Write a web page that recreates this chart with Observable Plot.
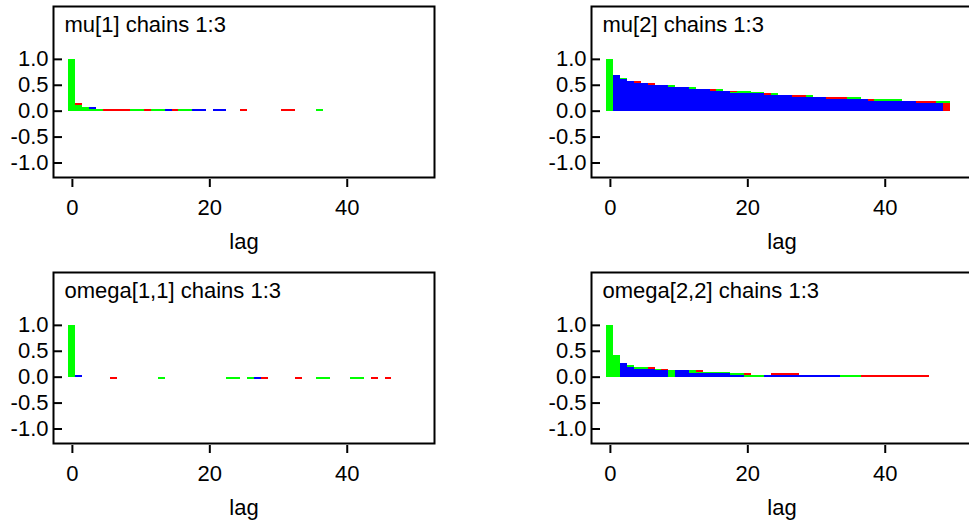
<!DOCTYPE html>
<html>
<head>
<meta charset="utf-8">
<script src="https://cdn.jsdelivr.net/npm/d3@7"></script>
<script src="https://cdn.jsdelivr.net/npm/@observablehq/plot@0.6"></script>
<style>
  html, body { margin: 0; padding: 0; background: #fff; overflow: hidden; }
  #chart { position: relative; width: 969px; height: 520px; overflow: hidden; }
  .panel { position: absolute; width: 484px; height: 260px; }
  .panel svg { max-width: none !important; }
</style>
</head>
<body>
<div id="chart"></div>
<script>
// Autocorrelation by lag (0..49) for three MCMC chains per parameter.
const titles = ["mu[1] chains 1:3", "mu[2] chains 1:3", "omega[1,1] chains 1:3", "omega[2,2] chains 1:3"];
const xLabel = "lag";
const xTicks = [0, 20, 40];
const yTicks = [1.0, 0.5, 0.0, -0.5, -1.0];
const chainNames = ["chain 1", "chain 2", "chain 3"];
const chainColors = ["#ff0000", "#00ff00", "#0000ff"]; // red, green, blue

const mu1Red = [
  1, 0.15, 0.08, 0.04, 0, 0.04, 0.04, 0.04, 0.04, 0,
  0, 0.04, 0, 0, 0, 0.04, 0, 0, 0, 0,
  0, 0, 0, 0, 0, 0.04, 0, 0, 0, 0,
  0, 0.04, 0.04, 0, 0, 0, 0, 0, 0, 0,
  0, 0, 0, 0, 0, 0, 0, 0, 0, 0];
const mu1Green = [
  1, 0.115, 0.08, 0.04, 0.04, 0, 0, 0, 0, 0.04,
  0.04, 0, 0.04, 0.04, 0, 0, 0.04, 0.04, 0, 0,
  0, 0, 0, 0, 0, 0, 0, 0, 0, 0,
  0, 0, 0, 0, 0, 0, 0.04, 0, 0, 0,
  0, 0, 0, 0, 0, 0, 0, 0, 0, 0];
const mu1Blue = [
  1, 0.115, 0.08, 0.08, 0, 0, 0, 0, 0, 0,
  0, 0, 0, 0, 0.04, 0, 0, 0, 0.04, 0.04,
  0, 0.04, 0.04, 0, 0, 0, 0, 0, 0, 0,
  0, 0, 0, 0, 0, 0, 0, 0, 0, 0,
  0, 0, 0, 0, 0, 0, 0, 0, 0, 0];

const mu2Red = [
  1, 0.692, 0.622, 0.582, 0.58, 0.542, 0.54, 0.502, 0.502, 0.50,
  0.462, 0.462, 0.46, 0.422, 0.422, 0.42, 0.42, 0.382, 0.38, 0.38,
  0.38, 0.352, 0.352, 0.35, 0.35, 0.312, 0.312, 0.31, 0.31, 0.31,
  0.272, 0.272, 0.27, 0.27, 0.27, 0.27, 0.27, 0.232, 0.23, 0.23,
  0.23, 0.23, 0.23, 0.192, 0.192, 0.19, 0.19, 0.19, 0.19, 0.15];
const mu2Green = [
  1, 0.692, 0.622, 0.582, 0.542, 0.542, 0.502, 0.502, 0.502, 0.50,
  0.462, 0.462, 0.46, 0.422, 0.422, 0.382, 0.42, 0.382, 0.352, 0.38,
  0.38, 0.352, 0.352, 0.312, 0.35, 0.312, 0.312, 0.272, 0.272, 0.31,
  0.272, 0.272, 0.232, 0.232, 0.232, 0.27, 0.27, 0.232, 0.192, 0.23,
  0.23, 0.23, 0.23, 0.192, 0.192, 0.152, 0.152, 0.152, 0.19, 0.19];
const mu2Blue = [
  1, 0.69, 0.62, 0.58, 0.54, 0.54, 0.50, 0.50, 0.50, 0.46,
  0.46, 0.46, 0.42, 0.42, 0.42, 0.38, 0.38, 0.38, 0.35, 0.35,
  0.35, 0.35, 0.35, 0.31, 0.31, 0.31, 0.31, 0.27, 0.27, 0.27,
  0.27, 0.27, 0.23, 0.23, 0.23, 0.23, 0.23, 0.23, 0.19, 0.19,
  0.19, 0.19, 0.19, 0.19, 0.19, 0.15, 0.15, 0.15, 0.15, 0.15];

const om11Red = [
  1, 0, 0, 0, 0, 0, -0.05, 0, 0, 0,
  0, 0, 0, 0, 0, 0, 0, 0, 0, 0,
  0, 0, 0, 0, 0, 0, 0, 0, -0.05, 0,
  0, 0, 0, -0.05, 0, 0, 0, 0, 0, 0,
  0, 0, 0, 0, -0.05, 0, -0.05, 0, 0, 0];
const om11Green = [
  1, 0, 0, 0, 0, 0, 0, 0, 0, 0,
  0, 0, 0, -0.05, 0, 0, 0, 0, 0, 0,
  0, 0, 0, -0.05, -0.05, 0, -0.05, 0, 0, 0,
  0, 0, 0, 0, 0, 0, -0.05, -0.05, 0, 0,
  0, -0.05, -0.05, 0, 0, 0, 0, 0, 0, 0];
const om11Blue = [
  1, 0.04, 0, 0, 0, 0, 0, 0, 0, 0,
  0, 0, 0, 0, 0, 0, 0, 0, 0, 0,
  0, 0, 0, 0, 0, 0, 0, -0.05, 0, 0,
  0, 0, 0, 0, 0, 0, 0, 0, 0, 0,
  0, 0, 0, 0, 0, 0, 0, 0, 0, 0];

const om22Red = [
  1, 0.42, 0.272, 0.23, 0.19, 0.19, 0.19, 0.15, 0.15, 0.12,
  0.122, 0.122, 0.12, 0.12, 0.082, 0.082, 0.082, 0.082, 0.08, 0.08,
  0.08, 0.04, 0.04, 0, 0.08, 0.08, 0.08, 0.08, 0, 0,
  0, 0, 0, 0, 0, 0, 0, 0.04, 0.04, 0.04,
  0.04, 0.04, 0.04, 0.04, 0.04, 0.04, 0.04, 0, 0, 0];
const om22Green = [
  1, 0.42, 0.272, 0.23, 0.19, 0.19, 0.152, 0.15, 0.122, 0.12,
  0.122, 0.122, 0.12, 0.082, 0.082, 0.082, 0.082, 0.082, 0.08, 0.08,
  0.04, 0.04, 0.04, 0, 0, 0, 0, 0, 0, 0,
  0, 0, 0, 0, 0.04, 0.04, 0.04, 0, 0, 0,
  0, 0, 0, 0, 0, 0, 0, 0, 0, 0];
const om22Blue = [
  1, 0.42, 0.27, 0.19, 0.15, 0.15, 0.15, 0.12, 0.12, 0.12,
  0.12, 0.12, 0.08, 0.08, 0.08, 0.08, 0.08, 0.08, 0.04, 0.04,
  0.04, 0.04, 0.04, 0.04, 0.04, 0.04, 0.04, 0.04, 0.04, 0.04,
  0.04, 0.04, 0.04, 0.04, 0, 0, 0, 0, 0, 0,
  0, 0, 0, 0, 0, 0, 0, 0, 0, 0];

const FONT = "'Liberation Sans', Arial, Helvetica, sans-serif";
const PANEL_W = 484, MARGIN_L = 53, MARGIN_R = 50;
const FRAME_W = PANEL_W - MARGIN_L - MARGIN_R;
const Y_TICK_LEN = 9;

// One bar per chain and lag; at each lag the largest |value| is painted first
// so that every chain stays visible. Ties: chain 3, then 1, then 2 on top.
function barRows(red, green, blue) {
  const chains = [[chainNames[2], blue], [chainNames[0], red], [chainNames[1], green]];
  const rows = [];
  for (let lag = 0; lag < red.length; lag++) {
    const at = chains.map(([chain, v], rank) => ({lag, chain, value: v[lag], rank}));
    at.sort((a, b) => Math.abs(b.value) - Math.abs(a.value) || a.rank - b.rank);
    rows.push(...at);
  }
  return rows;
}

function acfPanel(title, red, green, blue) {
  return Plot.plot({
    width: PANEL_W,
    height: 260,
    marginLeft: MARGIN_L,
    marginRight: MARGIN_R,
    marginTop: 6,
    marginBottom: 83,
    style: {fontFamily: FONT, fontSize: "22px", color: "#000", background: "transparent", overflow: "visible"},
    x: {domain: [-2.75, 52.7], axis: null},
    y: {domain: [-1.28, 2.02], axis: null},
    color: {type: "ordinal", domain: chainNames, range: chainColors},
    marks: [
      Plot.rectY(barRows(red, green, blue), {
        x1: d => d.lag - 0.5,
        x2: d => d.lag + 0.5,
        y1: 0,
        y2: "value",
        fill: "chain",
        shapeRendering: "crispEdges"
      }),
      Plot.frame({stroke: "#000", strokeWidth: 2}),
      // y ticks: short segments pointing inward from the left edge of the frame
      Plot.tickY(yTicks, {
        y: d => d,
        insetRight: FRAME_W - Y_TICK_LEN,
        stroke: "#000",
        strokeWidth: 2
      }),
      Plot.axisY(yTicks, {anchor: "left", tickSize: 0, tickPadding: 5, tickFormat: d => d.toFixed(1), label: null, fontSize: 22}),
      // x ticks sit just below the frame
      Plot.axisX(xTicks, {anchor: "bottom", tickSize: 8, dy: 2, tickPadding: 12, strokeWidth: 2, label: null, fontSize: 22}),
      Plot.text([xLabel], {frameAnchor: "bottom", dy: 64, lineAnchor: "middle", textAnchor: "middle", fontSize: 22}),
      Plot.text([title], {frameAnchor: "top-left", dx: 11, dy: 10, lineAnchor: "top", textAnchor: "start", fontSize: 22})
    ]
  });
}

const chart = document.getElementById("chart");
const panels = [
  {left: 0, top: 0, title: titles[0], data: [mu1Red, mu1Green, mu1Blue]},
  {left: 538, top: 0, title: titles[1], data: [mu2Red, mu2Green, mu2Blue]},
  {left: 0, top: 266, title: titles[2], data: [om11Red, om11Green, om11Blue]},
  {left: 538, top: 266, title: titles[3], data: [om22Red, om22Green, om22Blue]}
];
for (const p of panels) {
  const div = document.createElement("div");
  div.className = "panel";
  div.style.left = p.left + "px";
  div.style.top = p.top + "px";
  div.appendChild(acfPanel(p.title, ...p.data));
  chart.appendChild(div);
}
</script>
</body>
</html>
